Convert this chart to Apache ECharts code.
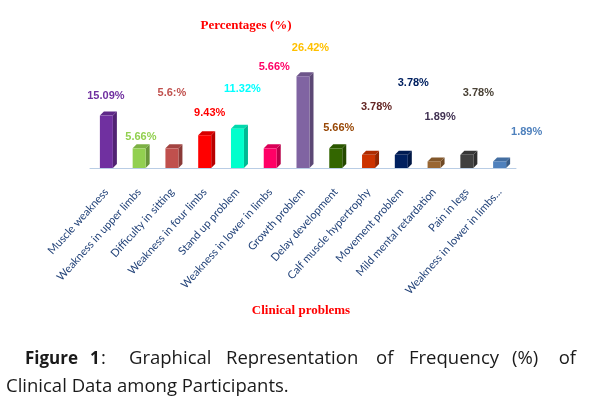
<!DOCTYPE html>
<html>
<head>
<meta charset="utf-8">
<script src="https://cdn.jsdelivr.net/npm/echarts@6/dist/echarts.min.js"></script>
<style>
html,body{margin:0;padding:0;background:#fff;}
#chart{width:597px;height:396px;}
</style>
</head>
<body>
<div id="chart"></div>
<script>
// ---- data ----
const categories = [
  'Muscle weakness',
  'Weakness in upper limbs',
  'Difficulty in sitting',
  'Weakness in four limbs',
  'Stand up problem',
  'Weakness in lower in limbs',
  'Growth problem',
  'Delay development',
  'Calf muscle hypertrophy',
  'Movement problem',
  'Mild mental retardation',
  'Pain in legs',
  'Weakness in lower in limbs...'
];
const percentages = [15.09, 5.66, 5.66, 9.43, 11.32, 5.66, 26.42, 5.66, 3.78, 3.78, 1.89, 3.78, 1.89];
const valueLabels = ['15.09%', '5.66%', '5.6:%', '9.43%', '11.32%', '5.66%', '26.42%', '5.66%', '3.78%', '3.78%', '1.89%', '3.78%', '1.89%'];

// ---- styles (not data) ----
const barColors = ['#7030A0', '#92D050', '#C0504D', '#FF0000', '#00FFCC', '#FF0066', '#8064A2', '#336600', '#CC3300', '#002060', '#996633', '#404040', '#4F81BD'];
const labelColors = ['#7030A0', '#92D050', '#C0504D', '#FF0000', '#00FFFF', '#FF0066', '#FFC000', '#984807', '#632523', '#002060', '#403152', '#4A4236', '#4F81BD'];
// label placement offsets relative to bar top [dx, dy]
const labelOffsets = [[-0.5, -20], [1.7, -11], [0, -55], [5, -22], [5, -40], [4, -81], [7.5, -28], [3, -20], [8, -48], [12, -72], [6, -44], [11.5, -62], [27, -29]];

function shade(hex, f) {
  const n = parseInt(hex.slice(1), 16);
  let r = (n >> 16) & 255, g = (n >> 8) & 255, b = n & 255;
  r = Math.round(r * f); g = Math.round(g * f); b = Math.round(b * f);
  return 'rgb(' + r + ',' + g + ',' + b + ')';
}

const chart = echarts.init(document.getElementById('chart'), null, {renderer: 'canvas'});
const W = 13, D = 4;
const capFont = '18.5px "Open Sans"';
const capBold = 'bold 17px "Open Sans"';
const capColor = '#1a1a1a';
function word(text, x, y, font, align) {
  return {type: 'text', x: x, y: y, style: {text: text, fill: capColor, font: font, align: align || 'left', verticalAlign: 'middle'}};
}
const option = {
  animation: false,
  backgroundColor: '#fff',
  grid: {left: 90, right: 81, top: 29, bottom: 228},
  xAxis: {
    type: 'category',
    data: categories,
    offset: 4,
    axisLine: {show: true, lineStyle: {color: '#B9CDE5', width: 1}},
    axisTick: {show: false},
    axisLabel: {
      rotate: 48, interval: 0, margin: 18,
      color: '#234379', fontFamily: 'Lato', fontSize: 11
    }
  },
  yAxis: {type: 'value', min: 0, max: 40, show: false, splitLine: {show: false}},
  series: [{
    type: 'custom',
    data: percentages.map((v, i) => [i, v]),
    renderItem: function (params, api) {
      const i = api.value(0), v = api.value(1);
      const base = api.coord([i, 0]);
      const top = api.coord([i, v]);
      const x0 = base[0] - W / 2, x1 = base[0] + W / 2;
      const c = barColors[i];
      const off = labelOffsets[i];
      return {
        type: 'group',
        children: [
          {type: 'polygon', shape: {points: [[x1, top[1]], [x1 + D, top[1] - D], [x1 + D, base[1] - D], [x1, base[1]]]}, style: {fill: shade(c, 0.72)}},
          {type: 'polygon', shape: {points: [[x0, top[1]], [x0 + D, top[1] - D], [x1 + D, top[1] - D], [x1, top[1]]]}, style: {fill: shade(c, 0.85)}},
          {type: 'rect', shape: {x: x0, y: top[1], width: W, height: base[1] - top[1]}, style: {fill: c}},
          {type: 'text', x: base[0] + off[0], y: top[1] + off[1], style: {
            text: valueLabels[i], fill: labelColors[i], font: 'bold 11px "Liberation Sans"',
            align: 'center', verticalAlign: 'middle'
          }}
        ]
      };
    }
  }],
  graphic: [
    {type: 'text', x: 246, y: 26, style: {text: 'Percentages (%)', fill: '#FF0000', font: 'bold 13px "Liberation Serif"', align: 'center', verticalAlign: 'middle'}},
    {type: 'text', x: 301, y: 311, style: {text: 'Clinical problems', fill: '#FF0000', font: 'bold 13px "Liberation Serif"', align: 'center', verticalAlign: 'middle'}},
    word('Figure', 25, 359, capBold),
    word('1', 90, 359, capBold),
    word(':', 101, 359, capFont),
    word('Graphical', 129, 359, capFont),
    word('Representation', 226, 359, capFont),
    word('of', 376, 359, capFont),
    word('Frequency', 409, 359, capFont),
    word('(%)', 512, 359, capFont),
    word('of', 576, 359, capFont, 'right'),
    word('Clinical Data among Participants.', 6, 387, capFont)
  ]
};
chart.setOption(option);
</script>
</body>
</html>
